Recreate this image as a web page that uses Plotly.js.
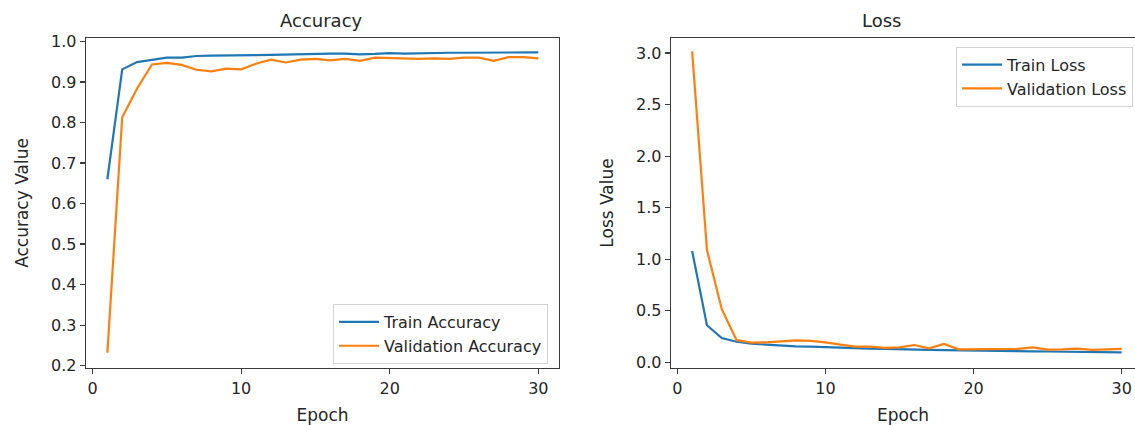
<!DOCTYPE html>
<html>
<head>
<meta charset="utf-8">
<script src="https://cdn.plot.ly/plotly-3.0.1.min.js"></script>
<style>html,body{margin:0;padding:0;background:#fff;}#chart{width:1135px;height:425px;}</style>
</head>
<body>
<div id="chart"></div>
<script>
const epochs = [1,2,3,4,5,6,7,8,9,10,11,12,13,14,15,16,17,18,19,20,21,22,23,24,25,26,27,28,29,30];
const trainAcc = [0.660,0.931,0.949,0.955,0.960,0.960,0.964,0.965,0.965,0.966,0.966,0.967,0.968,0.968,0.969,0.970,0.970,0.968,0.969,0.971,0.970,0.971,0.971,0.972,0.972,0.972,0.972,0.973,0.973,0.973];
const valAcc = [0.232,0.813,0.884,0.943,0.947,0.942,0.930,0.926,0.933,0.931,0.945,0.955,0.948,0.955,0.957,0.953,0.957,0.952,0.960,0.959,0.957,0.957,0.958,0.957,0.960,0.960,0.952,0.961,0.961,0.958];
const trainLoss = [1.08,0.36,0.235,0.20,0.18,0.172,0.16,0.155,0.152,0.146,0.143,0.137,0.133,0.13,0.125,0.122,0.12,0.118,0.115,0.113,0.112,0.11,0.108,0.107,0.105,0.104,0.102,0.10,0.099,0.097];
const valLoss = [3.016,1.09,0.515,0.215,0.192,0.193,0.203,0.212,0.208,0.194,0.172,0.152,0.152,0.14,0.145,0.168,0.136,0.178,0.126,0.126,0.127,0.125,0.13,0.145,0.123,0.126,0.133,0.12,0.122,0.13];
const xTicks = [0,10,20,30];
const accTicks = [0.2,0.3,0.4,0.5,0.6,0.7,0.8,0.9,1.0];
const lossTicks = [0.0,0.5,1.0,1.5,2.0,2.5,3.0];

const BLUE = '#1f77b4', ORANGE = '#ff7f0e';
const FONT = 'DejaVu Sans, sans-serif';
const TXT = '#262626';
const LINE = '#3c3c3c';

const traces = [
  {x: epochs, y: trainAcc, name: 'Train Accuracy', mode: 'lines', line: {color: BLUE, width: 2.2}, xaxis: 'x', yaxis: 'y', legend: 'legend'},
  {x: epochs, y: valAcc, name: 'Validation Accuracy', mode: 'lines', line: {color: ORANGE, width: 2.2}, xaxis: 'x', yaxis: 'y', legend: 'legend'},
  {x: epochs, y: trainLoss, name: 'Train Loss', mode: 'lines', line: {color: BLUE, width: 2.2}, xaxis: 'x2', yaxis: 'y2', legend: 'legend2'},
  {x: epochs, y: valLoss, name: 'Validation Loss', mode: 'lines', line: {color: ORANGE, width: 2.2}, xaxis: 'x2', yaxis: 'y2', legend: 'legend2'}
];

const axisBase = {
  showgrid: false, zeroline: false, showline: true, linecolor: LINE, linewidth: 1.3,
  ticks: 'outside', ticklen: 5, tickwidth: 1.2, tickcolor: LINE,
  tickfont: {family: FONT, size: 16, color: TXT}, automargin: false
};

const legendBase = {
  bgcolor: 'rgba(255,255,255,0.85)', bordercolor: '#d3d3d3', borderwidth: 1,
  font: {family: FONT, size: 16, color: TXT}, itemwidth: 40
};

const layout = {
  width: 1135, height: 425,
  margin: {l: 86, r: 0, t: 38, b: 57},
  paper_bgcolor: '#fff', plot_bgcolor: '#fff',
  font: {family: FONT, color: TXT},
  showlegend: true,
  xaxis: Object.assign({}, axisBase, {domain: [0, 0.4509], range: [-0.437, 31.39], tickvals: xTicks, mirror: true,
    title: {text: 'Epoch', font: {family: FONT, size: 17, color: TXT}, standoff: 12}}),
  yaxis: Object.assign({}, axisBase, {range: [0.1943, 1.0084], tickvals: accTicks, tickformat: '.1f', mirror: true,
    title: {text: 'Accuracy Value', font: {family: FONT, size: 17, color: TXT}, standoff: 18}}),
  xaxis2: Object.assign({}, axisBase, {domain: [0.5577, 1], range: [-0.425, 30.9], tickvals: xTicks, mirror: true, anchor: 'y2',
    title: {text: 'Epoch', font: {family: FONT, size: 17, color: TXT}, standoff: 12}}),
  yaxis2: Object.assign({}, axisBase, {range: [-0.055, 3.146], tickvals: lossTicks, tickformat: '.1f', mirror: false, anchor: 'x2',
    title: {text: 'Loss Value', font: {family: FONT, size: 17, color: TXT}, standoff: 18}}),
  legend: Object.assign({}, legendBase, {x: 0.2355, xanchor: 'left', y: 0.012, yanchor: 'bottom'}),
  legend2: Object.assign({}, legendBase, {x: 0.8294, xanchor: 'left', y: 0.9736, yanchor: 'top'}),
  annotations: [
    {text: 'Accuracy', xref: 'paper', yref: 'paper', x: (321 - 86) / 1049, y: 1, xanchor: 'center', yanchor: 'bottom', yshift: 5, showarrow: false,
     font: {family: FONT, size: 18, color: TXT}},
    {text: 'Loss', xref: 'paper', yref: 'paper', x: (881 - 86) / 1049, y: 1, xanchor: 'center', yanchor: 'bottom', yshift: 5, showarrow: false,
     font: {family: FONT, size: 18, color: TXT}}
  ]
};

Plotly.newPlot('chart', traces, layout, {staticPlot: true, displayModeBar: false});
</script>
</body>
</html>
